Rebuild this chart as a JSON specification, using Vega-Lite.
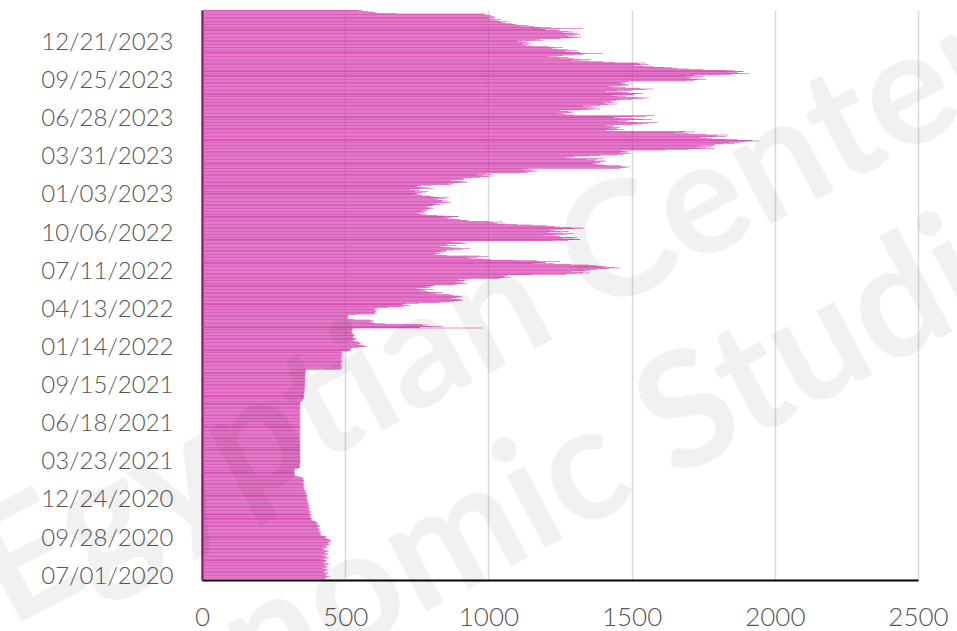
{
"$schema":"https://vega.github.io/schema/vega-lite/v6.json",
"width":716,"height":570,
"autosize":{"type":"none"},
"padding":{"left":202,"top":10,"right":39,"bottom":51},
"background":"#ffffff",
"config":{"view":{"stroke":null},"font":"Lato"},
"encoding":{
"y":{"field":"d","type":"ordinal","sort":null,
"scale":{"reverse":true,"paddingInner":0.15,"paddingOuter":0},
"axis":{"title":null,"values":["07/01/2020","09/28/2020","12/24/2020","03/23/2021","06/18/2021","09/15/2021","01/14/2022","04/13/2022","07/11/2022","10/06/2022","01/03/2023","03/31/2023","06/28/2023","09/25/2023","12/21/2023"],
"ticks":false,"grid":false,"domainColor":"#000000","domainWidth":2,"labelFont":"Lato","labelFontSize":24,"labelFontWeight":300,"labelColor":"#555555","labelPadding":29,"labelOffset":-3}},
"x":{"field":"v","type":"quantitative",
"scale":{"domain":[0,2500],"nice":false},
"axis":{"title":null,"values":[0,500,1000,1500,2000,2500],"format":"d","ticks":false,"grid":true,"gridColor":"#d9d9d9","gridWidth":1.5,"domainColor":"#000000","domainWidth":2,"labelFont":"Lato","labelFontSize":26,"labelFontWeight":300,"labelColor":"#555555","labelPadding":24,"labelFlush":false}}
},
"layer":[
{"data":{"values":[
{"d":"07/01/2020","v":436},{"d":"07/02/2020","v":441},{"d":"07/03/2020","v":430},
{"d":"07/06/2020","v":428},{"d":"07/07/2020","v":434},{"d":"07/08/2020","v":445},{"d":"07/09/2020","v":438},{"d":"07/10/2020","v":431},
{"d":"07/13/2020","v":425},{"d":"07/14/2020","v":433},{"d":"07/15/2020","v":440},{"d":"07/16/2020","v":437},{"d":"07/17/2020","v":429},
{"d":"07/20/2020","v":422},{"d":"07/21/2020","v":430},{"d":"07/22/2020","v":436},{"d":"07/23/2020","v":443},{"d":"07/24/2020","v":435},
{"d":"07/27/2020","v":428},{"d":"07/28/2020","v":420},{"d":"07/29/2020","v":432},{"d":"07/30/2020","v":441},{"d":"07/31/2020","v":436},
{"d":"08/03/2020","v":430},{"d":"08/04/2020","v":425},{"d":"08/05/2020","v":438},{"d":"08/06/2020","v":446},{"d":"08/07/2020","v":434},
{"d":"08/10/2020","v":427},{"d":"08/11/2020","v":420},{"d":"08/12/2020","v":431},{"d":"08/13/2020","v":439},{"d":"08/14/2020","v":433},
{"d":"08/17/2020","v":426},{"d":"08/18/2020","v":418},{"d":"08/19/2020","v":429},{"d":"08/20/2020","v":437},{"d":"08/21/2020","v":444},
{"d":"08/24/2020","v":435},{"d":"08/25/2020","v":428},{"d":"08/26/2020","v":422},{"d":"08/27/2020","v":433},{"d":"08/28/2020","v":440},
{"d":"08/31/2020","v":438},{"d":"09/01/2020","v":430},{"d":"09/02/2020","v":425},{"d":"09/03/2020","v":436},{"d":"09/04/2020","v":442},
{"d":"09/07/2020","v":437},{"d":"09/08/2020","v":431},{"d":"09/09/2020","v":424},{"d":"09/10/2020","v":419},{"d":"09/11/2020","v":428},
{"d":"09/14/2020","v":435},{"d":"09/15/2020","v":441},{"d":"09/16/2020","v":433},{"d":"09/17/2020","v":427},{"d":"09/18/2020","v":438},
{"d":"09/21/2020","v":444},{"d":"09/22/2020","v":447},{"d":"09/23/2020","v":440},{"d":"09/24/2020","v":436},{"d":"09/25/2020","v":443},
{"d":"09/28/2020","v":448},{"d":"09/29/2020","v":445},{"d":"09/30/2020","v":452},{"d":"10/01/2020","v":446},{"d":"10/02/2020","v":441},
{"d":"10/05/2020","v":437},{"d":"10/06/2020","v":432},{"d":"10/07/2020","v":428},{"d":"10/08/2020","v":436},{"d":"10/09/2020","v":430},
{"d":"10/12/2020","v":419},{"d":"10/13/2020","v":415},{"d":"10/14/2020","v":412},{"d":"10/15/2020","v":418},{"d":"10/16/2020","v":410},
{"d":"10/19/2020","v":414},{"d":"10/20/2020","v":408},{"d":"10/21/2020","v":416},{"d":"10/22/2020","v":411},{"d":"10/23/2020","v":405},
{"d":"10/26/2020","v":409},{"d":"10/27/2020","v":413},{"d":"10/28/2020","v":406},{"d":"10/29/2020","v":402},{"d":"10/30/2020","v":410},
{"d":"11/02/2020","v":404},{"d":"11/03/2020","v":411},{"d":"11/04/2020","v":407},{"d":"11/05/2020","v":400},{"d":"11/06/2020","v":405},
{"d":"11/09/2020","v":402},{"d":"11/10/2020","v":397},{"d":"11/11/2020","v":404},{"d":"11/12/2020","v":399},{"d":"11/13/2020","v":393},
{"d":"11/16/2020","v":386},{"d":"11/17/2020","v":382},{"d":"11/18/2020","v":379},{"d":"11/19/2020","v":384},{"d":"11/20/2020","v":377},
{"d":"11/23/2020","v":381},{"d":"11/24/2020","v":375},{"d":"11/25/2020","v":379},{"d":"11/26/2020","v":383},{"d":"11/27/2020","v":376},
{"d":"11/30/2020","v":380},{"d":"12/01/2020","v":374},{"d":"12/02/2020","v":371},{"d":"12/03/2020","v":377},{"d":"12/04/2020","v":382},
{"d":"12/07/2020","v":378},{"d":"12/08/2020","v":373},{"d":"12/09/2020","v":376},{"d":"12/10/2020","v":370},{"d":"12/11/2020","v":374},
{"d":"12/14/2020","v":379},{"d":"12/15/2020","v":375},{"d":"12/16/2020","v":372},{"d":"12/17/2020","v":368},{"d":"12/18/2020","v":373},
{"d":"12/21/2020","v":376},{"d":"12/22/2020","v":371},{"d":"12/23/2020","v":374},{"d":"12/24/2020","v":369},{"d":"12/25/2020","v":372},
{"d":"12/28/2020","v":370},{"d":"12/29/2020","v":366},{"d":"12/30/2020","v":372},{"d":"12/31/2020","v":368},{"d":"01/01/2021","v":365},
{"d":"01/04/2021","v":369},{"d":"01/05/2021","v":364},{"d":"01/06/2021","v":367},{"d":"01/07/2021","v":371},{"d":"01/08/2021","v":366},
{"d":"01/11/2021","v":363},{"d":"01/12/2021","v":368},{"d":"01/13/2021","v":365},{"d":"01/14/2021","v":361},{"d":"01/15/2021","v":364},
{"d":"01/18/2021","v":366},{"d":"01/19/2021","v":362},{"d":"01/20/2021","v":359},{"d":"01/21/2021","v":364},{"d":"01/22/2021","v":360},
{"d":"01/25/2021","v":357},{"d":"01/26/2021","v":355},{"d":"01/27/2021","v":359},{"d":"01/28/2021","v":356},{"d":"01/29/2021","v":353},
{"d":"02/01/2021","v":356},{"d":"02/02/2021","v":358},{"d":"02/03/2021","v":354},{"d":"02/04/2021","v":357},{"d":"02/05/2021","v":355},
{"d":"02/08/2021","v":353},{"d":"02/09/2021","v":357},{"d":"02/10/2021","v":355},{"d":"02/11/2021","v":352},{"d":"02/12/2021","v":356},
{"d":"02/15/2021","v":354},{"d":"02/16/2021","v":358},{"d":"02/17/2021","v":356},{"d":"02/18/2021","v":353},{"d":"02/19/2021","v":351},
{"d":"02/22/2021","v":355},{"d":"02/23/2021","v":350},{"d":"02/24/2021","v":341},{"d":"02/25/2021","v":330},{"d":"02/26/2021","v":326},
{"d":"03/01/2021","v":324},{"d":"03/02/2021","v":322},{"d":"03/03/2021","v":325},{"d":"03/04/2021","v":321},{"d":"03/05/2021","v":323},
{"d":"03/08/2021","v":320},{"d":"03/09/2021","v":322},{"d":"03/10/2021","v":324},{"d":"03/11/2021","v":321},{"d":"03/12/2021","v":323},
{"d":"03/15/2021","v":325},{"d":"03/16/2021","v":333},{"d":"03/17/2021","v":340},{"d":"03/18/2021","v":342},{"d":"03/19/2021","v":343},
{"d":"03/22/2021","v":341},{"d":"03/23/2021","v":344},{"d":"03/24/2021","v":342},{"d":"03/25/2021","v":340},{"d":"03/26/2021","v":343},
{"d":"03/29/2021","v":342},{"d":"03/30/2021","v":343},{"d":"03/31/2021","v":341},{"d":"04/01/2021","v":344},{"d":"04/02/2021","v":342},
{"d":"04/05/2021","v":340},{"d":"04/06/2021","v":342},{"d":"04/07/2021","v":343},{"d":"04/08/2021","v":341},{"d":"04/09/2021","v":342},
{"d":"04/12/2021","v":344},{"d":"04/13/2021","v":342},{"d":"04/14/2021","v":341},{"d":"04/15/2021","v":343},{"d":"04/16/2021","v":342},
{"d":"04/19/2021","v":342},{"d":"04/20/2021","v":340},{"d":"04/21/2021","v":341},{"d":"04/22/2021","v":343},{"d":"04/23/2021","v":344},
{"d":"04/26/2021","v":342},{"d":"04/27/2021","v":341},{"d":"04/28/2021","v":343},{"d":"04/29/2021","v":342},{"d":"04/30/2021","v":340},
{"d":"05/03/2021","v":341},{"d":"05/04/2021","v":343},{"d":"05/05/2021","v":342},{"d":"05/06/2021","v":344},{"d":"05/07/2021","v":342},
{"d":"05/10/2021","v":343},{"d":"05/11/2021","v":341},{"d":"05/12/2021","v":342},{"d":"05/13/2021","v":340},{"d":"05/14/2021","v":342},
{"d":"05/17/2021","v":342},{"d":"05/18/2021","v":344},{"d":"05/19/2021","v":343},{"d":"05/20/2021","v":341},{"d":"05/21/2021","v":342},
{"d":"05/24/2021","v":341},{"d":"05/25/2021","v":342},{"d":"05/26/2021","v":340},{"d":"05/27/2021","v":342},{"d":"05/28/2021","v":343},
{"d":"05/31/2021","v":342},{"d":"06/01/2021","v":343},{"d":"06/02/2021","v":341},{"d":"06/03/2021","v":342},{"d":"06/04/2021","v":344},
{"d":"06/07/2021","v":343},{"d":"06/08/2021","v":342},{"d":"06/09/2021","v":341},{"d":"06/10/2021","v":343},{"d":"06/11/2021","v":342},
{"d":"06/14/2021","v":341},{"d":"06/15/2021","v":342},{"d":"06/16/2021","v":344},{"d":"06/17/2021","v":342},{"d":"06/18/2021","v":343},
{"d":"06/21/2021","v":342},{"d":"06/22/2021","v":341},{"d":"06/23/2021","v":343},{"d":"06/24/2021","v":342},{"d":"06/25/2021","v":340},
{"d":"06/28/2021","v":343},{"d":"06/29/2021","v":342},{"d":"06/30/2021","v":341},{"d":"07/01/2021","v":344},{"d":"07/02/2021","v":342},
{"d":"07/05/2021","v":342},{"d":"07/06/2021","v":343},{"d":"07/07/2021","v":342},{"d":"07/08/2021","v":341},{"d":"07/09/2021","v":343},
{"d":"07/12/2021","v":344},{"d":"07/13/2021","v":342},{"d":"07/14/2021","v":343},{"d":"07/15/2021","v":342},{"d":"07/16/2021","v":341},
{"d":"07/19/2021","v":342},{"d":"07/20/2021","v":343},{"d":"07/21/2021","v":344},{"d":"07/22/2021","v":342},{"d":"07/23/2021","v":343},
{"d":"07/26/2021","v":343},{"d":"07/27/2021","v":342},{"d":"07/28/2021","v":341},{"d":"07/29/2021","v":343},{"d":"07/30/2021","v":342},
{"d":"08/02/2021","v":342},{"d":"08/03/2021","v":344},{"d":"08/04/2021","v":343},{"d":"08/05/2021","v":342},{"d":"08/06/2021","v":341},
{"d":"08/09/2021","v":343},{"d":"08/10/2021","v":342},{"d":"08/11/2021","v":344},{"d":"08/12/2021","v":343},{"d":"08/13/2021","v":342},
{"d":"08/16/2021","v":344},{"d":"08/17/2021","v":346},{"d":"08/18/2021","v":348},{"d":"08/19/2021","v":350},{"d":"08/20/2021","v":352},
{"d":"08/23/2021","v":353},{"d":"08/24/2021","v":355},{"d":"08/25/2021","v":354},{"d":"08/26/2021","v":356},{"d":"08/27/2021","v":355},
{"d":"08/30/2021","v":356},{"d":"08/31/2021","v":354},{"d":"09/01/2021","v":357},{"d":"09/02/2021","v":355},{"d":"09/03/2021","v":356},
{"d":"09/06/2021","v":358},{"d":"09/07/2021","v":356},{"d":"09/08/2021","v":357},{"d":"09/09/2021","v":359},{"d":"09/10/2021","v":357},
{"d":"09/13/2021","v":358},{"d":"09/14/2021","v":357},{"d":"09/15/2021","v":359},{"d":"09/16/2021","v":360},{"d":"09/17/2021","v":358},
{"d":"09/20/2021","v":357},{"d":"09/21/2021","v":359},{"d":"09/22/2021","v":358},{"d":"09/23/2021","v":360},{"d":"09/24/2021","v":359},
{"d":"09/27/2021","v":358},{"d":"09/28/2021","v":360},{"d":"09/29/2021","v":359},{"d":"09/30/2021","v":361},{"d":"10/01/2021","v":358},
{"d":"10/04/2021","v":359},{"d":"10/05/2021","v":361},{"d":"10/06/2021","v":360},{"d":"10/07/2021","v":358},{"d":"10/08/2021","v":360},
{"d":"10/11/2021","v":361},{"d":"10/12/2021","v":359},{"d":"10/13/2021","v":360},{"d":"10/14/2021","v":362},{"d":"10/15/2021","v":360},
{"d":"10/18/2021","v":360},{"d":"10/19/2021","v":362},{"d":"10/20/2021","v":361},{"d":"10/21/2021","v":359},{"d":"10/22/2021","v":361},
{"d":"10/25/2021","v":362},{"d":"10/26/2021","v":360},{"d":"10/27/2021","v":361},{"d":"10/28/2021","v":363},{"d":"10/29/2021","v":362},
{"d":"12/03/2021","v":485},
{"d":"12/06/2021","v":488},{"d":"12/07/2021","v":484},{"d":"12/08/2021","v":490},{"d":"12/09/2021","v":486},{"d":"12/10/2021","v":483},
{"d":"12/13/2021","v":487},{"d":"12/14/2021","v":491},{"d":"12/15/2021","v":485},{"d":"12/16/2021","v":482},{"d":"12/17/2021","v":489},
{"d":"12/20/2021","v":486},{"d":"12/21/2021","v":490},{"d":"12/22/2021","v":484},{"d":"12/23/2021","v":488},{"d":"12/24/2021","v":492},
{"d":"12/27/2021","v":485},{"d":"12/28/2021","v":489},{"d":"12/29/2021","v":483},{"d":"12/30/2021","v":487},{"d":"12/31/2021","v":491},
{"d":"01/03/2022","v":488},{"d":"01/04/2022","v":484},{"d":"01/05/2022","v":490},{"d":"01/06/2022","v":486},{"d":"01/07/2022","v":493},
{"d":"01/10/2022","v":489},{"d":"01/11/2022","v":485},{"d":"01/12/2022","v":491},{"d":"01/13/2022","v":487},{"d":"01/14/2022","v":510},
{"d":"01/17/2022","v":517},{"d":"01/18/2022","v":521},{"d":"01/19/2022","v":515},{"d":"01/20/2022","v":519},{"d":"01/21/2022","v":524},
{"d":"01/24/2022","v":548},{"d":"01/25/2022","v":562},{"d":"01/26/2022","v":576},{"d":"01/27/2022","v":570},{"d":"01/28/2022","v":555},
{"d":"01/31/2022","v":547},{"d":"02/01/2022","v":552},{"d":"02/02/2022","v":558},{"d":"02/03/2022","v":549},{"d":"02/04/2022","v":544},
{"d":"02/07/2022","v":538},{"d":"02/08/2022","v":531},{"d":"02/09/2022","v":527},{"d":"02/10/2022","v":535},{"d":"02/11/2022","v":540},
{"d":"02/14/2022","v":532},{"d":"02/15/2022","v":528},{"d":"02/16/2022","v":524},{"d":"02/17/2022","v":530},{"d":"02/18/2022","v":536},
{"d":"02/21/2022","v":529},{"d":"02/22/2022","v":525},{"d":"02/23/2022","v":531},{"d":"02/24/2022","v":527},{"d":"02/25/2022","v":523},
{"d":"02/28/2022","v":524},{"d":"03/01/2022","v":520},{"d":"03/02/2022","v":526},{"d":"03/03/2022","v":522},{"d":"03/04/2022","v":525},
{"d":"03/07/2022","v":523},{"d":"03/08/2022","v":526},{"d":"03/09/2022","v":981},{"d":"03/10/2022","v":760},{"d":"03/11/2022","v":841},
{"d":"03/14/2022","v":805},{"d":"03/15/2022","v":772},{"d":"03/16/2022","v":790},{"d":"03/17/2022","v":768},{"d":"03/18/2022","v":640},
{"d":"03/21/2022","v":604},{"d":"03/22/2022","v":598},{"d":"03/23/2022","v":586},{"d":"03/24/2022","v":592},{"d":"03/25/2022","v":600},
{"d":"03/28/2022","v":588},{"d":"03/29/2022","v":530},{"d":"03/30/2022","v":512},{"d":"03/31/2022","v":508},{"d":"04/01/2022","v":515},
{"d":"04/04/2022","v":510},{"d":"04/05/2022","v":506},{"d":"04/06/2022","v":512},{"d":"04/07/2022","v":509},{"d":"04/08/2022","v":540},
{"d":"04/11/2022","v":600},{"d":"04/12/2022","v":611},{"d":"04/13/2022","v":605},{"d":"04/14/2022","v":603},{"d":"04/15/2022","v":608},
{"d":"04/18/2022","v":606},{"d":"04/19/2022","v":610},{"d":"04/20/2022","v":601},{"d":"04/21/2022","v":604},{"d":"04/22/2022","v":609},
{"d":"04/25/2022","v":612},{"d":"04/26/2022","v":650},{"d":"04/27/2022","v":691},{"d":"04/28/2022","v":705},{"d":"04/29/2022","v":726},
{"d":"05/02/2022","v":718},{"d":"05/03/2022","v":700},{"d":"05/04/2022","v":712},{"d":"05/05/2022","v":760},{"d":"05/06/2022","v":830},
{"d":"05/09/2022","v":866},{"d":"05/10/2022","v":880},{"d":"05/11/2022","v":895},{"d":"05/12/2022","v":912},{"d":"05/13/2022","v":905},
{"d":"05/16/2022","v":890},{"d":"05/17/2022","v":872},{"d":"05/18/2022","v":885},{"d":"05/19/2022","v":900},{"d":"05/20/2022","v":910},
{"d":"05/23/2022","v":898},{"d":"05/24/2022","v":880},{"d":"05/25/2022","v":868},{"d":"05/26/2022","v":820},{"d":"05/27/2022","v":800},
{"d":"05/30/2022","v":841},{"d":"05/31/2022","v":815},{"d":"06/01/2022","v":790},{"d":"06/02/2022","v":761},{"d":"06/03/2022","v":780},
{"d":"06/06/2022","v":808},{"d":"06/07/2022","v":770},{"d":"06/08/2022","v":750},{"d":"06/09/2022","v":785},{"d":"06/10/2022","v":795},
{"d":"06/13/2022","v":800},{"d":"06/14/2022","v":780},{"d":"06/15/2022","v":810},{"d":"06/16/2022","v":878},{"d":"06/17/2022","v":890},
{"d":"06/20/2022","v":905},{"d":"06/21/2022","v":925},{"d":"06/22/2022","v":910},{"d":"06/23/2022","v":885},{"d":"06/24/2022","v":900},
{"d":"06/27/2022","v":920},{"d":"06/28/2022","v":915},{"d":"06/29/2022","v":895},{"d":"06/30/2022","v":930},{"d":"07/01/2022","v":1040},
{"d":"07/04/2022","v":1055},{"d":"07/05/2022","v":1075},{"d":"07/06/2022","v":1060},{"d":"07/07/2022","v":1048},{"d":"07/08/2022","v":1070},
{"d":"07/11/2022","v":1150},{"d":"07/12/2022","v":1273},{"d":"07/13/2022","v":1310},{"d":"07/14/2022","v":1355},{"d":"07/15/2022","v":1330},
{"d":"07/18/2022","v":1290},{"d":"07/19/2022","v":1340},{"d":"07/20/2022","v":1355},{"d":"07/21/2022","v":1332},{"d":"07/22/2022","v":1380},
{"d":"07/25/2022","v":1420},{"d":"07/26/2022","v":1460},{"d":"07/27/2022","v":1440},{"d":"07/28/2022","v":1395},{"d":"07/29/2022","v":1410},
{"d":"08/01/2022","v":1378},{"d":"08/02/2022","v":1350},{"d":"08/03/2022","v":1290},{"d":"08/04/2022","v":1230},{"d":"08/05/2022","v":1157},
{"d":"08/08/2022","v":1200},{"d":"08/09/2022","v":1180},{"d":"08/10/2022","v":1250},{"d":"08/11/2022","v":1170},{"d":"08/12/2022","v":1087},
{"d":"08/15/2022","v":1010},{"d":"08/16/2022","v":980},{"d":"08/17/2022","v":940},{"d":"08/18/2022","v":924},{"d":"08/19/2022","v":960},
{"d":"08/22/2022","v":1000},{"d":"08/23/2022","v":970},{"d":"08/24/2022","v":855},{"d":"08/25/2022","v":820},{"d":"08/26/2022","v":808},
{"d":"08/29/2022","v":830},{"d":"08/30/2022","v":845},{"d":"08/31/2022","v":815},{"d":"09/01/2022","v":850},{"d":"09/02/2022","v":835},
{"d":"09/05/2022","v":855},{"d":"09/06/2022","v":880},{"d":"09/07/2022","v":910},{"d":"09/08/2022","v":936},{"d":"09/09/2022","v":900},
{"d":"09/12/2022","v":870},{"d":"09/13/2022","v":845},{"d":"09/14/2022","v":831},{"d":"09/15/2022","v":890},{"d":"09/16/2022","v":860},
{"d":"09/19/2022","v":855},{"d":"09/20/2022","v":900},{"d":"09/21/2022","v":925},{"d":"09/22/2022","v":910},{"d":"09/23/2022","v":880},
{"d":"09/26/2022","v":870},{"d":"09/27/2022","v":1227},{"d":"09/28/2022","v":1280},{"d":"09/29/2022","v":1320},{"d":"09/30/2022","v":1300},
{"d":"10/03/2022","v":1260},{"d":"10/04/2022","v":1290},{"d":"10/05/2022","v":1310},{"d":"10/06/2022","v":1250},{"d":"10/07/2022","v":1240},
{"d":"10/10/2022","v":1192},{"d":"10/11/2022","v":1230},{"d":"10/12/2022","v":1270},{"d":"10/13/2022","v":1297},{"d":"10/14/2022","v":1260},
{"d":"10/17/2022","v":1210},{"d":"10/18/2022","v":1250},{"d":"10/19/2022","v":1280},{"d":"10/20/2022","v":1230},{"d":"10/21/2022","v":1215},
{"d":"10/24/2022","v":1260},{"d":"10/25/2022","v":1300},{"d":"10/26/2022","v":1332},{"d":"10/27/2022","v":1290},{"d":"10/28/2022","v":1250},
{"d":"10/31/2022","v":1230},{"d":"11/01/2022","v":1203},{"d":"11/02/2022","v":1150},{"d":"11/03/2022","v":1100},{"d":"11/04/2022","v":1060},
{"d":"11/07/2022","v":1030},{"d":"11/08/2022","v":1017},{"d":"11/09/2022","v":1050},{"d":"11/10/2022","v":1000},{"d":"11/11/2022","v":930},
{"d":"11/14/2022","v":925},{"d":"11/15/2022","v":900},{"d":"11/16/2022","v":880},{"d":"11/17/2022","v":860},{"d":"11/18/2022","v":843},
{"d":"11/21/2022","v":870},{"d":"11/22/2022","v":895},{"d":"11/23/2022","v":850},{"d":"11/24/2022","v":820},{"d":"11/25/2022","v":785},
{"d":"11/28/2022","v":770},{"d":"11/29/2022","v":760},{"d":"11/30/2022","v":750},{"d":"12/01/2022","v":775},{"d":"12/02/2022","v":765},
{"d":"12/05/2022","v":780},{"d":"12/06/2022","v":785},{"d":"12/07/2022","v":773},{"d":"12/08/2022","v":790},{"d":"12/09/2022","v":808},
{"d":"12/12/2022","v":795},{"d":"12/13/2022","v":800},{"d":"12/14/2022","v":780},{"d":"12/15/2022","v":790},{"d":"12/16/2022","v":805},
{"d":"12/19/2022","v":810},{"d":"12/20/2022","v":830},{"d":"12/21/2022","v":845},{"d":"12/22/2022","v":820},{"d":"12/23/2022","v":866},
{"d":"12/26/2022","v":850},{"d":"12/27/2022","v":835},{"d":"12/28/2022","v":860},{"d":"12/29/2022","v":840},{"d":"12/30/2022","v":825},
{"d":"01/02/2023","v":815},{"d":"01/03/2023","v":850},{"d":"01/04/2023","v":862},{"d":"01/05/2023","v":830},{"d":"01/06/2023","v":808},
{"d":"01/09/2023","v":796},{"d":"01/10/2023","v":770},{"d":"01/11/2023","v":760},{"d":"01/12/2023","v":738},{"d":"01/13/2023","v":750},
{"d":"01/16/2023","v":780},{"d":"01/17/2023","v":765},{"d":"01/18/2023","v":745},{"d":"01/19/2023","v":790},{"d":"01/20/2023","v":760},
{"d":"01/23/2023","v":740},{"d":"01/24/2023","v":726},{"d":"01/25/2023","v":760},{"d":"01/26/2023","v":808},{"d":"01/27/2023","v":790},
{"d":"01/30/2023","v":770},{"d":"01/31/2023","v":750},{"d":"02/01/2023","v":800},{"d":"02/02/2023","v":760},{"d":"02/03/2023","v":870},
{"d":"02/06/2023","v":855},{"d":"02/07/2023","v":880},{"d":"02/08/2023","v":900},{"d":"02/09/2023","v":925},{"d":"02/10/2023","v":910},
{"d":"02/13/2023","v":890},{"d":"02/14/2023","v":870},{"d":"02/15/2023","v":915},{"d":"02/16/2023","v":905},{"d":"02/17/2023","v":913},
{"d":"02/20/2023","v":940},{"d":"02/21/2023","v":970},{"d":"02/22/2023","v":1000},{"d":"02/23/2023","v":1017},{"d":"02/24/2023","v":980},
{"d":"02/27/2023","v":960},{"d":"02/28/2023","v":1010},{"d":"03/01/2023","v":990},{"d":"03/02/2023","v":1110},{"d":"03/03/2023","v":1140},
{"d":"03/06/2023","v":1170},{"d":"03/07/2023","v":1130},{"d":"03/08/2023","v":1150},{"d":"03/09/2023","v":1160},{"d":"03/10/2023","v":1120},
{"d":"03/13/2023","v":1140},{"d":"03/14/2023","v":1460},{"d":"03/15/2023","v":1480},{"d":"03/16/2023","v":1495},{"d":"03/17/2023","v":1470},
{"d":"03/20/2023","v":1460},{"d":"03/21/2023","v":1413},{"d":"03/22/2023","v":1380},{"d":"03/23/2023","v":1400},{"d":"03/24/2023","v":1365},
{"d":"03/27/2023","v":1390},{"d":"03/28/2023","v":1375},{"d":"03/29/2023","v":1405},{"d":"03/30/2023","v":1410},{"d":"03/31/2023","v":1370},
{"d":"04/03/2023","v":1340},{"d":"04/04/2023","v":1380},{"d":"04/05/2023","v":1400},{"d":"04/06/2023","v":1290},{"d":"04/07/2023","v":1273},
{"d":"04/10/2023","v":1300},{"d":"04/11/2023","v":1350},{"d":"04/12/2023","v":1390},{"d":"04/13/2023","v":1450},{"d":"04/14/2023","v":1470},
{"d":"04/17/2023","v":1495},{"d":"04/18/2023","v":1480},{"d":"04/19/2023","v":1460},{"d":"04/20/2023","v":1490},{"d":"04/21/2023","v":1475},
{"d":"04/24/2023","v":1465},{"d":"04/25/2023","v":1620},{"d":"04/26/2023","v":1700},{"d":"04/27/2023","v":1740},{"d":"04/28/2023","v":1790},
{"d":"05/01/2023","v":1760},{"d":"05/02/2023","v":1725},{"d":"05/03/2023","v":1780},{"d":"05/04/2023","v":1740},{"d":"05/05/2023","v":1790},
{"d":"05/08/2023","v":1790},{"d":"05/09/2023","v":1820},{"d":"05/10/2023","v":1860},{"d":"05/11/2023","v":1840},{"d":"05/12/2023","v":1880},
{"d":"05/15/2023","v":1900},{"d":"05/16/2023","v":1945},{"d":"05/17/2023","v":1920},{"d":"05/18/2023","v":1870},{"d":"05/19/2023","v":1830},
{"d":"05/22/2023","v":1780},{"d":"05/23/2023","v":1760},{"d":"05/24/2023","v":1740},{"d":"05/25/2023","v":1790},{"d":"05/26/2023","v":1830},
{"d":"05/29/2023","v":1800},{"d":"05/30/2023","v":1835},{"d":"05/31/2023","v":1760},{"d":"06/01/2023","v":1700},{"d":"06/02/2023","v":1650},
{"d":"06/05/2023","v":1680},{"d":"06/06/2023","v":1720},{"d":"06/07/2023","v":1690},{"d":"06/08/2023","v":1410},{"d":"06/09/2023","v":1440},
{"d":"06/12/2023","v":1475},{"d":"06/13/2023","v":1450},{"d":"06/14/2023","v":1420},{"d":"06/15/2023","v":1460},{"d":"06/16/2023","v":1440},
{"d":"06/19/2023","v":1430},{"d":"06/20/2023","v":1410},{"d":"06/21/2023","v":1440},{"d":"06/22/2023","v":1500},{"d":"06/23/2023","v":1540},
{"d":"06/26/2023","v":1560},{"d":"06/27/2023","v":1590},{"d":"06/28/2023","v":1520},{"d":"06/29/2023","v":1480},{"d":"06/30/2023","v":1450},
{"d":"07/03/2023","v":1490},{"d":"07/04/2023","v":1570},{"d":"07/05/2023","v":1540},{"d":"07/06/2023","v":1510},{"d":"07/07/2023","v":1460},
{"d":"07/10/2023","v":1440},{"d":"07/11/2023","v":1500},{"d":"07/12/2023","v":1550},{"d":"07/13/2023","v":1580},{"d":"07/14/2023","v":1300},
{"d":"07/17/2023","v":1270},{"d":"07/18/2023","v":1240},{"d":"07/19/2023","v":1260},{"d":"07/20/2023","v":1290},{"d":"07/21/2023","v":1300},
{"d":"07/24/2023","v":1280},{"d":"07/25/2023","v":1250},{"d":"07/26/2023","v":1320},{"d":"07/27/2023","v":1350},{"d":"07/28/2023","v":1390},
{"d":"07/31/2023","v":1370},{"d":"08/01/2023","v":1340},{"d":"08/02/2023","v":1380},{"d":"08/03/2023","v":1360},{"d":"08/04/2023","v":1330},
{"d":"08/07/2023","v":1390},{"d":"08/08/2023","v":1420},{"d":"08/09/2023","v":1450},{"d":"08/10/2023","v":1410},{"d":"08/11/2023","v":1440},
{"d":"08/14/2023","v":1400},{"d":"08/15/2023","v":1430},{"d":"08/16/2023","v":1425},{"d":"08/17/2023","v":1445},{"d":"08/18/2023","v":1460},
{"d":"08/21/2023","v":1500},{"d":"08/22/2023","v":1540},{"d":"08/23/2023","v":1560},{"d":"08/24/2023","v":1520},{"d":"08/25/2023","v":1480},
{"d":"08/28/2023","v":1450},{"d":"08/29/2023","v":1430},{"d":"08/30/2023","v":1470},{"d":"08/31/2023","v":1510},{"d":"09/01/2023","v":1540},
{"d":"09/04/2023","v":1525},{"d":"09/05/2023","v":1490},{"d":"09/06/2023","v":1470},{"d":"09/07/2023","v":1410},{"d":"09/08/2023","v":1450},
{"d":"09/11/2023","v":1500},{"d":"09/12/2023","v":1550},{"d":"09/13/2023","v":1575},{"d":"09/14/2023","v":1530},{"d":"09/15/2023","v":1480},
{"d":"09/18/2023","v":1440},{"d":"09/19/2023","v":1420},{"d":"09/20/2023","v":1460},{"d":"09/21/2023","v":1490},{"d":"09/22/2023","v":1480},
{"d":"09/25/2023","v":1500},{"d":"09/26/2023","v":1470},{"d":"09/27/2023","v":1460},{"d":"09/28/2023","v":1480},{"d":"09/29/2023","v":1490},
{"d":"10/02/2023","v":1690},{"d":"10/03/2023","v":1720},{"d":"10/04/2023","v":1760},{"d":"10/05/2023","v":1730},{"d":"10/06/2023","v":1700},
{"d":"10/09/2023","v":1740},{"d":"10/10/2023","v":1710},{"d":"10/11/2023","v":1750},{"d":"10/12/2023","v":1690},{"d":"10/13/2023","v":1720},
{"d":"10/16/2023","v":1810},{"d":"10/17/2023","v":1850},{"d":"10/18/2023","v":1880},{"d":"10/19/2023","v":1910},{"d":"10/20/2023","v":1870},
{"d":"10/23/2023","v":1840},{"d":"10/24/2023","v":1890},{"d":"10/25/2023","v":1860},{"d":"10/26/2023","v":1830},{"d":"10/27/2023","v":1750},
{"d":"10/30/2023","v":1700},{"d":"10/31/2023","v":1660},{"d":"11/01/2023","v":1610},{"d":"11/02/2023","v":1640},{"d":"11/03/2023","v":1575},
{"d":"11/06/2023","v":1540},{"d":"11/07/2023","v":1510},{"d":"11/08/2023","v":1560},{"d":"11/09/2023","v":1530},{"d":"11/10/2023","v":1520},
{"d":"11/13/2023","v":1550},{"d":"11/14/2023","v":1440},{"d":"11/15/2023","v":1400},{"d":"11/16/2023","v":1350},{"d":"11/17/2023","v":1290},
{"d":"11/20/2023","v":1320},{"d":"11/21/2023","v":1360},{"d":"11/22/2023","v":1300},{"d":"11/23/2023","v":1250},{"d":"11/24/2023","v":1280},
{"d":"11/27/2023","v":1240},{"d":"11/28/2023","v":1205},{"d":"11/29/2023","v":1260},{"d":"11/30/2023","v":1300},{"d":"12/01/2023","v":1330},
{"d":"12/04/2023","v":1340},{"d":"12/05/2023","v":1400},{"d":"12/06/2023","v":1320},{"d":"12/07/2023","v":1290},{"d":"12/08/2023","v":1270},
{"d":"12/11/2023","v":1260},{"d":"12/12/2023","v":1310},{"d":"12/13/2023","v":1280},{"d":"12/14/2023","v":1240},{"d":"12/15/2023","v":1220},
{"d":"12/18/2023","v":1260},{"d":"12/19/2023","v":1230},{"d":"12/20/2023","v":1210},{"d":"12/21/2023","v":1150},{"d":"12/22/2023","v":1130},
{"d":"12/25/2023","v":1115},{"d":"12/26/2023","v":1140},{"d":"12/27/2023","v":1125},{"d":"12/28/2023","v":1150},{"d":"12/29/2023","v":1135},
{"d":"01/01/2024","v":1120},{"d":"01/02/2024","v":1100},{"d":"01/03/2024","v":1190},{"d":"01/04/2024","v":1160},{"d":"01/05/2024","v":1180},
{"d":"01/08/2024","v":1250},{"d":"01/09/2024","v":1290},{"d":"01/10/2024","v":1310},{"d":"01/11/2024","v":1325},{"d":"01/12/2024","v":1280},
{"d":"01/15/2024","v":1300},{"d":"01/16/2024","v":1270},{"d":"01/17/2024","v":1320},{"d":"01/18/2024","v":1310},{"d":"01/19/2024","v":1290},
{"d":"01/22/2024","v":1260},{"d":"01/23/2024","v":1300},{"d":"01/24/2024","v":1280},{"d":"01/25/2024","v":1250},{"d":"01/26/2024","v":1240},
{"d":"01/29/2024","v":1200},{"d":"01/30/2024","v":1250},{"d":"01/31/2024","v":1330},{"d":"02/01/2024","v":1220},{"d":"02/02/2024","v":1180},
{"d":"02/05/2024","v":1160},{"d":"02/06/2024","v":1120},{"d":"02/07/2024","v":1140},{"d":"02/08/2024","v":1100},{"d":"02/09/2024","v":1090},
{"d":"02/12/2024","v":1080},{"d":"02/13/2024","v":1060},{"d":"02/14/2024","v":1050},{"d":"02/15/2024","v":1070},{"d":"02/16/2024","v":1040},
{"d":"02/19/2024","v":1030},{"d":"02/20/2024","v":1010},{"d":"02/21/2024","v":1045},{"d":"02/22/2024","v":1020},{"d":"02/23/2024","v":1000},
{"d":"02/26/2024","v":1025},{"d":"02/27/2024","v":1005},{"d":"02/28/2024","v":1020},{"d":"02/29/2024","v":1010},{"d":"03/01/2024","v":1000},
{"d":"03/04/2024","v":985},{"d":"03/05/2024","v":990},{"d":"03/06/2024","v":680},{"d":"03/07/2024","v":610},{"d":"03/08/2024","v":600},
{"d":"03/11/2024","v":580},{"d":"03/12/2024","v":560},{"d":"03/13/2024","v":545}
]},
"mark":{"type":"bar","color":"#cf2aa5"}},
{"data":{"values":[
{"t":"Egyptian Center for","d":"08/12/2022","v":1390},
{"t":"Economic Studies","d":"02/03/2021","v":1250}
]},
"mark":{"type":"text","angle":-28,"font":"Lato","fontSize":160,"fontWeight":"bold","color":"#000000","opacity":0.05,"align":"center","baseline":"middle"},
"encoding":{"text":{"field":"t"}}}
]
}
